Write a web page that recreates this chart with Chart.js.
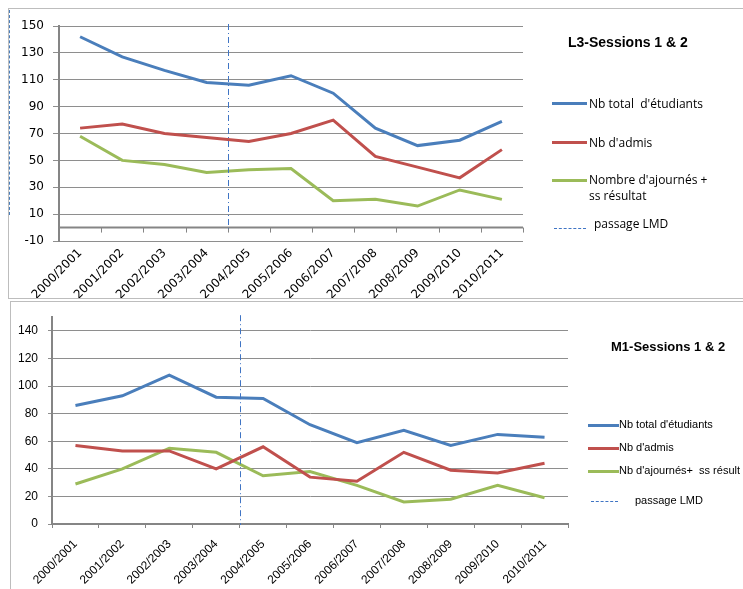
<!DOCTYPE html>
<html>
<head>
<meta charset="utf-8">
<script src="https://cdn.jsdelivr.net/npm/chart.js@4/dist/chart.umd.min.js"></script>
<style>
  html, body { margin: 0; padding: 0; background: #fff; }
  body { width: 743px; height: 589px; position: relative; overflow: hidden; font-family: "Open Sans", sans-serif; }
  .frame { position: absolute; border: 1px solid #bdbdbd; box-sizing: border-box; }
  canvas { position: absolute; left: 0; }
  .title { position: absolute; font-weight: bold; color: #000; white-space: nowrap; }
  .leg { position: absolute; white-space: nowrap; color: #000; }
  .sample { position: absolute; height: 0; }
</style>
</head>
<body>
<div class="frame" style="left:8px;top:8px;width:745px;height:291px;"></div>
<div class="frame" style="left:10px;top:301px;width:745px;height:300px;"></div>
<div style="position:absolute;left:9px;top:10px;height:205px;border-left:1.5px dashed #4a7ebb;"></div>

<canvas id="c1" width="743" height="298" style="top:0px;"></canvas>
<canvas id="c2" width="743" height="289" style="top:300px;"></canvas>

<!-- L3 title + legend -->
<div class="title" style="left:568px;top:34px;font-family:'Liberation Sans',sans-serif;font-size:14px;">L3-Sessions 1 &amp; 2</div>
<div class="sample" style="left:552px;top:102px;width:35px;border-top:3px solid #4a7ebb;"></div>
<div class="leg" style="left:589px;top:95px;font-size:12px;">Nb total&nbsp; d'étudiants</div>
<div class="sample" style="left:552px;top:141px;width:35px;border-top:3px solid #c0504d;"></div>
<div class="leg" style="left:589px;top:134px;font-size:12px;">Nb d'admis</div>
<div class="sample" style="left:552px;top:179px;width:35px;border-top:3px solid #9bbb59;"></div>
<div class="leg" style="left:589px;top:172px;font-size:12px;line-height:16px;">Nombre d'ajournés +<br>ss résultat</div>
<div class="sample" style="left:554px;top:228px;width:32px;border-top:1px dashed #3f74c4;"></div>
<div class="leg" style="left:594px;top:215px;font-size:12px;">passage LMD</div>

<!-- M1 title + legend -->
<div class="title" style="left:611px;top:339px;font-family:'Liberation Sans',sans-serif;font-size:13px;">M1-Sessions 1 &amp; 2</div>
<div class="sample" style="left:588px;top:424px;width:31px;border-top:3px solid #4a7ebb;"></div>
<div class="leg" style="left:619px;top:418px;font-size:11px;font-family:'Liberation Sans',sans-serif;">Nb total d'étudiants</div>
<div class="sample" style="left:588px;top:447px;width:31px;border-top:3px solid #c0504d;"></div>
<div class="leg" style="left:619px;top:441px;font-size:11px;font-family:'Liberation Sans',sans-serif;">Nb d'admis</div>
<div class="sample" style="left:588px;top:470px;width:31px;border-top:3px solid #9bbb59;"></div>
<div class="leg" style="left:619px;top:464px;font-size:11px;font-family:'Liberation Sans',sans-serif;">Nb d'ajournés+&nbsp; ss résult</div>
<div class="sample" style="left:591px;top:501px;width:27px;border-top:1px dashed #3f74c4;"></div>
<div class="leg" style="left:635px;top:494px;font-size:11px;font-family:'Liberation Sans',sans-serif;">passage LMD</div>

<script>
// ---- data ----
const categories = ['2000/2001','2001/2002','2002/2003','2003/2004','2004/2005','2005/2006','2006/2007','2007/2008','2008/2009','2009/2010','2010/2011'];

const l3Total    = [142, 127, 117, 108, 106, 113, 100, 74, 61, 65, 79];
const l3Admis    = [74, 77, 70, 67, 64, 70, 80, 53, 45, 37, 58];
const l3Ajournes = [68, 50, 47, 41, 43, 44, 20, 21, 16, 28, 21];

const m1Total    = [86, 93, 108, 92, 91, 72, 59, 68, 57, 65, 63];
const m1Admis    = [57, 53, 53, 40, 56, 34, 31, 52, 39, 37, 44];
const m1Ajournes = [29, 40, 55, 52, 35, 38, 28, 16, 18, 28, 19];

const l3YMin = -10, l3YMax = 150, l3YStep = 20;
const m1YMin = 0, m1YMax = 150, m1YStep = 20, m1YLabelMax = 140;

// "passage LMD": boundary between 2003/2004 and 2004/2005
const lmdBoundary = 3.5;

const BLUE = '#4a7ebb', RED = '#c0504d', GREEN = '#9bbb59';
const GRID = '#8e8e8e', AXIS = '#858585', LMD = '#3f74c4';

function ds(label, data, color) {
  return { label, data, borderColor: color, backgroundColor: color, borderWidth: 3,
           pointRadius: 0, tension: 0, fill: false };
}

const lmdPlugin = {
  id: 'lmd',
  afterDatasetsDraw(chart) {
    const x = Math.round(chart.scales.x.getPixelForValue(lmdBoundary)) + 0.5;
    const y = chart.scales.y;
    const ctx = chart.ctx;
    ctx.save();
    ctx.strokeStyle = LMD;
    ctx.lineWidth = 1;
    ctx.setLineDash([6, 3, 1, 3]);
    ctx.beginPath();
    ctx.moveTo(x, chart.chartArea.top - 2);
    ctx.lineTo(x, y.getPixelForValue(0) + 1);
    ctx.stroke();
    ctx.restore();
  }
};

const zeroLinePlugin = {
  id: 'zeroLine',
  beforeDatasetsDraw(chart) {
    const xs = chart.scales.x, ys = chart.scales.y;
    const y0 = ys.getPixelForValue(0);
    const ctx = chart.ctx;
    ctx.save();
    ctx.strokeStyle = AXIS;
    ctx.lineWidth = 2;
    ctx.beginPath();
    ctx.moveTo(chart.chartArea.left, y0);
    ctx.lineTo(chart.chartArea.right, y0);
    ctx.stroke();
    ctx.lineWidth = 1;
    ctx.beginPath();
    for (let i = 0; i <= categories.length; i++) {
      const x = Math.round(xs.getPixelForValue(i - 0.5)) + 0.5;
      ctx.moveTo(x, y0);
      ctx.lineTo(x, y0 + 5);
    }
    ctx.stroke();
    ctx.restore();
  }
};

// ---- L3 chart ----
new Chart(document.getElementById('c1'), {
  type: 'line',
  data: {
    labels: categories,
    datasets: [
      ds("Nb total d'étudiants", l3Total, BLUE),
      ds("Nb d'admis", l3Admis, RED),
      ds("Nombre d'ajournés + ss résultat", l3Ajournes, GREEN)
    ]
  },
  options: {
    responsive: false, animation: false, devicePixelRatio: 1,
    layout: { padding: { top: 26, right: 220, left: 0, bottom: 0 } },
    plugins: { legend: { display: false }, tooltip: { enabled: false } },
    scales: {
      x: {
        offset: true,
        grid: { display: false, drawTicks: false },
        border: { display: false },
        ticks: { color: '#000', font: { family: 'DejaVu Sans', size: 12 }, maxRotation: 45, minRotation: 45, padding: 5, autoSkip: false },
        afterFit(s) { s.height = 57; }
      },
      y: {
        min: l3YMin, max: l3YMax,
        grid: { color: GRID, lineWidth: 1, tickLength: 6, tickColor: GRID },
        border: { display: true, color: AXIS, width: 2 },
        ticks: { stepSize: l3YStep, color: '#000', font: { family: 'DejaVu Sans', size: 12 }, padding: 9 },
        afterFit(s) { s.width = 59; }
      }
    }
  },
  plugins: [zeroLinePlugin, lmdPlugin]
});

// ---- M1 chart ----
new Chart(document.getElementById('c2'), {
  type: 'line',
  data: {
    labels: categories,
    datasets: [
      ds("Nb total d'étudiants", m1Total, BLUE),
      ds("Nb d'admis", m1Admis, RED),
      ds("Nb d'ajournés+ ss résult", m1Ajournes, GREEN)
    ]
  },
  options: {
    responsive: false, animation: false, devicePixelRatio: 1,
    layout: { padding: { top: 16, right: 175, left: 0, bottom: 0 } },
    plugins: { legend: { display: false }, tooltip: { enabled: false } },
    scales: {
      x: {
        offset: true,
        grid: { offset: true, drawOnChartArea: false, drawTicks: true, tickLength: 4, color: AXIS },
        border: { display: true, color: AXIS, width: 2 },
        ticks: { color: '#000', font: { family: 'Liberation Sans', size: 12 }, maxRotation: 45, minRotation: 45, padding: 9, autoSkip: false },
        afterFit(s) { s.height = 65; }
      },
      y: {
        min: m1YMin, max: m1YMax,
        afterBuildTicks(s) { s.ticks = s.ticks.filter(t => t.value <= m1YLabelMax); },
        grid: { color: GRID, lineWidth: 1, tickLength: 4, tickColor: GRID },
        border: { display: true, color: AXIS, width: 2 },
        ticks: { stepSize: m1YStep, color: '#000', font: { family: 'Liberation Sans', size: 12 }, padding: 10 },
        afterFit(s) { s.width = 52; }
      }
    }
  },
  plugins: [lmdPlugin]
});
</script>
</body>
</html>
